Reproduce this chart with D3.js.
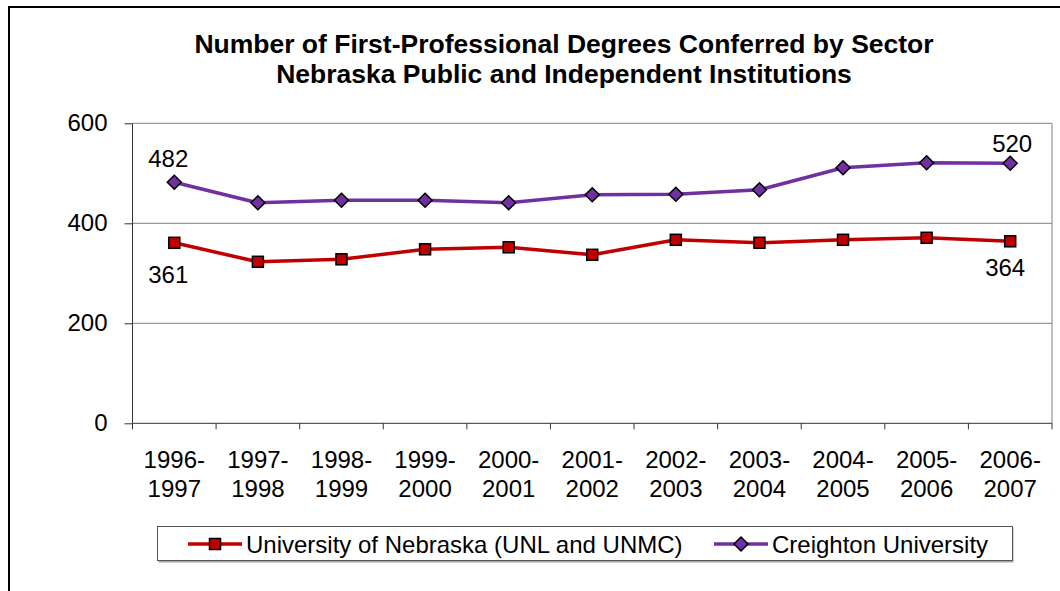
<!DOCTYPE html>
<html>
<head>
<meta charset="utf-8">
<script src="https://cdn.jsdelivr.net/npm/d3@7"></script>
<style>
  body { margin: 0; background: #fff; }
  svg { font-family: Arial, "Liberation Sans", sans-serif; }
</style>
</head>
<body>
<div id="chart"></div>
<script>
var WIDTH = 1060, HEIGHT = 591;

// data
var periods = ["1996-1997", "1997-1998", "1998-1999", "1999-2000", "2000-2001", "2001-2002",
               "2002-2003", "2003-2004", "2004-2005", "2005-2006", "2006-2007"];
var nebraska = [361, 323, 328, 348, 352, 337, 367, 361, 367, 371, 364];
var creighton = [482, 441, 446, 446, 441, 457, 458, 467, 511, 521, 520];
var yTicks = [0, 200, 400, 600];
var titleLines = ["Number of First-Professional Degrees Conferred by Sector",
                  "Nebraska Public and Independent Institutions"];

var series = [
  {name: "University of Nebraska (UNL and UNMC)", values: nebraska, color: "#C00000", marker: "square"},
  {name: "Creighton University", values: creighton, color: "#7030A0", marker: "diamond"}
];

var margin = {top: 123.3, right: 8, bottom: 167.7, left: 132.5};
var w = WIDTH - margin.left - margin.right;
var h = HEIGHT - margin.top - margin.bottom;

var svg = d3.select("#chart").append("svg")
    .attr("width", WIDTH)
    .attr("height", HEIGHT);

// outer frame
svg.append("rect")
    .attr("x", 9).attr("y", 7)
    .attr("width", WIDTH).attr("height", HEIGHT)
    .style("fill", "none").style("stroke", "#000").style("stroke-width", 2);

var title = svg.append("text")
    .attr("x", 564).attr("y", 53)
    .style("text-anchor", "middle")
    .style("font-weight", "bold")
    .style("font-size", "26.5px");
title.selectAll("tspan").data(titleLines).enter().append("tspan")
    .attr("x", 564)
    .attr("dy", function(d, i) { return i ? 30 : 0; })
    .text(function(d) { return d; });

var g = svg.append("g")
    .attr("transform", "translate(" + margin.left + "," + margin.top + ")");

var xScale = d3.scaleBand().domain(periods).range([0, w]);
var yScale = d3.scaleLinear().domain([0, 600]).range([h, 0]);

// gridlines
g.selectAll(".grid").data(yTicks.filter(function(d) { return d > 0; })).enter().append("line")
    .attr("x1", 0).attr("x2", w)
    .attr("y1", function(d) { return yScale(d); })
    .attr("y2", function(d) { return yScale(d); })
    .style("stroke", "#808080").style("stroke-width", 1);

// right border of plot
g.append("line")
    .attr("x1", w).attr("x2", w).attr("y1", 0).attr("y2", h)
    .style("stroke", "#808080").style("stroke-width", 1);

// y axis
var yAxis = g.append("g")
    .call(d3.axisLeft(yScale).tickValues(yTicks).tickSize(8).tickPadding(17))
    .call(function(a) { a.select(".domain").attr("d", "M0," + h + "V0"); });
yAxis.selectAll("path, line").style("stroke", "#333");
yAxis.selectAll("text").style("font-size", "24px").style("fill", "#000")
    .style("font-family", "Arial, 'Liberation Sans', sans-serif");

// x axis - ticks on band boundaries
var xAxis = g.append("g").attr("transform", "translate(0," + h + ")");
xAxis.append("line").attr("x1", 0).attr("x2", w)
    .style("stroke", "#333").style("stroke-width", 1);
var bounds = periods.map(function(d) { return xScale(d); }).concat([w]);
xAxis.selectAll(".tick").data(bounds).enter().append("line")
    .attr("x1", function(d) { return d; }).attr("x2", function(d) { return d; })
    .attr("y1", 0).attr("y2", 6)
    .style("stroke", "#333");
var xl = xAxis.selectAll(".xlabel").data(periods).enter().append("text")
    .attr("y", 45)
    .style("text-anchor", "middle")
    .style("font-size", "24px");
xl.append("tspan")
    .attr("x", function(d) { return xScale(d) + xScale.bandwidth() / 2; })
    .text(function(d) { return d.split("-")[0] + "-"; });
xl.append("tspan")
    .attr("x", function(d) { return xScale(d) + xScale.bandwidth() / 2; })
    .attr("dy", 29)
    .text(function(d) { return d.split("-")[1]; });

var cx = function(i) { return xScale(periods[i]) + xScale.bandwidth() / 2; };
var line = d3.line()
    .x(function(d, i) { return cx(i); })
    .y(function(d) { return yScale(d); });

function drawMarker(sel, type, color) {
  if (type === "square") {
    sel.append("rect")
      .attr("x", -5.5).attr("y", -5.5).attr("width", 11).attr("height", 11)
      .style("fill", color).style("stroke", "#000").style("stroke-width", 1.5);
  } else {
    sel.append("path")
      .attr("d", "M0,-7L7,0L0,7L-7,0Z")
      .style("fill", color).style("stroke", "#000").style("stroke-width", 1.5);
  }
}

series.forEach(function(s) {
  g.append("path")
    .attr("d", line(s.values))
    .style("fill", "none")
    .style("stroke", s.color)
    .style("stroke-width", 3.5);
  s.values.forEach(function(v, i) {
    var m = g.append("g").attr("transform", "translate(" + cx(i) + "," + yScale(v) + ")");
    drawMarker(m, s.marker, s.color);
  });
});

// data labels on first and last points
var labels = [
  {i: 0, v: nebraska[0], dx: -6, dy: 40},
  {i: 10, v: nebraska[10], dx: -5, dy: 35},
  {i: 0, v: creighton[0], dx: -6, dy: -15.5},
  {i: 10, v: creighton[10], dx: 2, dy: -11}
];
g.selectAll(".dlabel").data(labels).enter().append("text")
    .attr("x", function(d) { return cx(d.i) + d.dx; })
    .attr("y", function(d) { return yScale(d.v) + d.dy; })
    .style("text-anchor", "middle")
    .style("font-size", "24px")
    .text(function(d) { return d.v; });

// legend
var legend = svg.append("g");
legend.append("rect")
    .attr("x", 158.5).attr("y", 527.5).attr("width", 855).attr("height", 35)
    .style("fill", "#a6a6a6");
legend.append("rect")
    .attr("x", 157.5).attr("y", 526.5).attr("width", 855).attr("height", 34)
    .style("fill", "#fff").style("stroke", "#555").style("stroke-width", 1);
var legendX = [188, 714];
series.forEach(function(s, k) {
  var lg = legend.append("g").attr("transform", "translate(" + legendX[k] + ",544)");
  lg.append("line").attr("x1", 0).attr("x2", 54)
    .style("stroke", s.color).style("stroke-width", 3.5);
  drawMarker(lg.append("g").attr("transform", "translate(27,0)"), s.marker, s.color);
  lg.append("text").attr("x", 58).attr("y", 8.5)
    .style("font-size", "24px")
    .text(s.name);
});
</script>
</body>
</html>
